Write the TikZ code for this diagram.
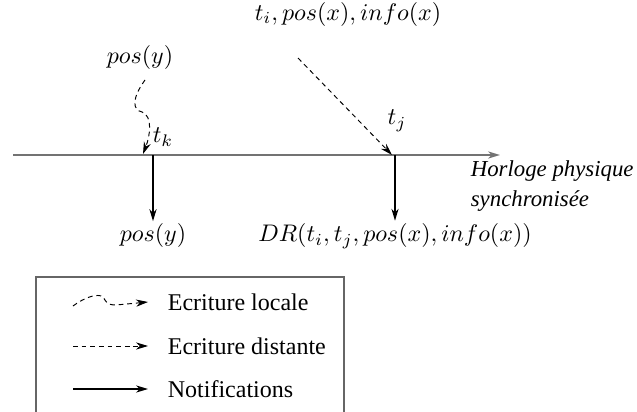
\documentclass[tikz,border=0pt]{standalone}
\usepackage{fontspec}
\setmainfont{Liberation Serif}
\usepackage{xcolor}
\colorlet{colorClock}{black!55}
\colorlet{colorFrame}{black!60}
\usepackage{tikz}
\usetikzlibrary{arrows.meta, positioning}

\begin{document}
\begin{tikzpicture}[x=0.4167pt, y=-0.4167pt, >={Stealth[length=5pt, width=3pt, inset=1.6pt]},
  clock/.style={->, colorClock, line width=0.8pt},
  notif/.style={->, black, line width=0.5pt},
  remote/.style={->, black, dash pattern=on 2pt off 1.6pt, line width=0.4pt},
  local/.style={->, black, dash pattern=on 2pt off 1.6pt, line width=0.4pt},
  every node/.style={inner sep=1pt}]
\useasboundingbox (0,0) rectangle (637,412);
% horloge
\coordinate (h0) at (13,155);
\coordinate (h1) at (500,155);
\draw [clock] (h0) -- (h1);
\node [anchor=north west, align=left, font=\fontsize{9.5}{12.5}\selectfont\itshape] (horloge) at (468,158) {Horloge physique\\synchronis\'ee};
% ecriture locale
\node (posyTop) at (140,58) {$pos(y)$};
\coordinate (lStart) at (145,80);
\coordinate (lEnd) at (143,154);
\node (tk) at (163,137) {$t_k$};
\draw [local] (lStart) .. controls (132,98) and (132,110) .. (142,112) .. controls (153,116) and (150,136) .. (lEnd);
% ecriture distante
\node (tij) at (348,14) {$t_i, pos(x), info(x)$};
\coordinate (rStart) at (298,58);
\coordinate (rEnd) at (392,155);
\node (tj) at (397,121) {$t_j$};
\draw [remote] (rStart) -- (rEnd);
% notifications
\coordinate (nk) at (153,155);
\coordinate (nj) at (395,155);
\node (posyBot) at (153,236) {$pos(y)$};
\node (dr) at (395,236) {$DR(t_i, t_j, pos(x), info(x))$};
\draw [notif] (nk) -- (posyBot.north);
\draw [notif] (nj) -- (dr.north);
% legende
\draw [colorFrame, line width=0.8pt] (36,412) -- (36,277) -- (344,277) -- (344,412);
\node [anchor=west] (legLocal) at (165,302) {Ecriture locale};
\node [anchor=west] (legRemote) at (165,346) {Ecriture distante};
\node [anchor=west] (legNotif) at (165,389) {Notifications};
\draw [local] (73,306) .. controls (85,297) and (98,293) .. (103,297) .. controls (106,301) and (106,305) .. (116,305) -- (legLocal.west -| 148,302);
\draw [remote] (73,346) -- (legRemote.west -| 148,346);
\draw [notif] (73,389) -- (legNotif.west -| 148,389);
\end{tikzpicture}
\end{document}
